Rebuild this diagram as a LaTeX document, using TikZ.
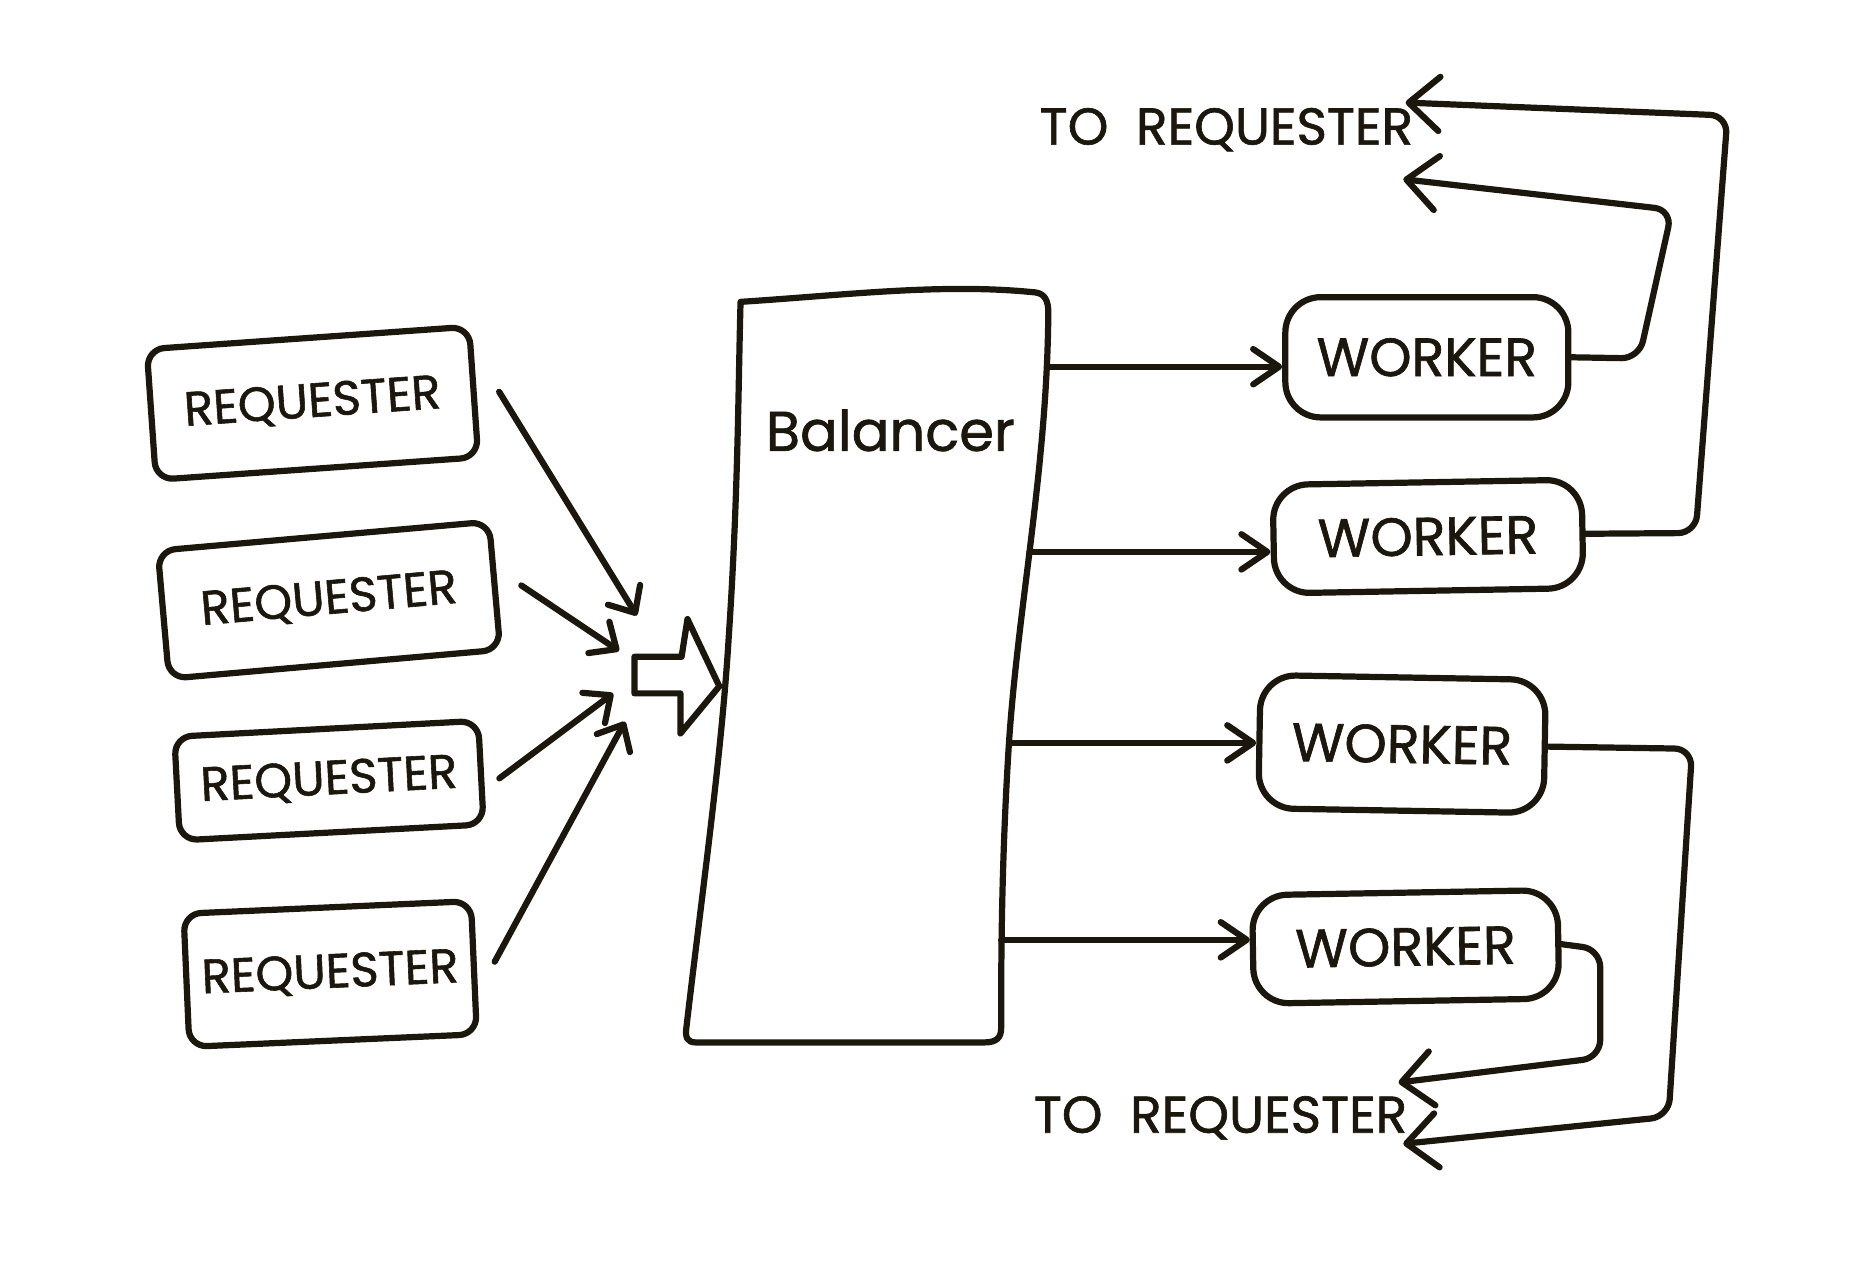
\documentclass[tikz,border=0pt]{standalone}
\usepackage{xcolor}
\definecolor{ink}{HTML}{1C170D}
\usepackage{fontspec}
\setmainfont{Poppins}[FakeBold=1.2]
\usepackage{tikz}
\usetikzlibrary{arrows.meta}

\begin{document}
\begin{tikzpicture}[x=0.1mm, y=-0.1mm,
    every node/.style={font=\fontsize{12.5}{15}\selectfont, text=ink},
    box/.style={draw=ink, line width=1.5pt, align=center, inner sep=0pt},
    req/.style={box, rounded corners=1.5mm, font=\fontsize{11.6}{14}\selectfont},
    wrk/.style={box, rounded corners=3mm, font=\fontsize{13}{15}\selectfont},
    sketch/.style={draw=ink, line width=1.5pt, line join=round, line cap=round},
    arr/.style={sketch, -{Straight Barb[length=1.8mm, width=3.2mm, round]}},
    arrw/.style={sketch, -{Straight Barb[length=2.2mm, width=3mm, round]}},
    ret/.style={sketch, rounded corners=1.5mm,
                -{Straight Barb[length=2.6mm, width=4.6mm, round]}}]
  \useasboundingbox (0,0) rectangle (1568,1071);

  % requesters
  \node[req, minimum width=27.4mm, minimum height=11.1mm, rotate=4]   (r1) at (265,342) {REQUESTER};
  \node[req, minimum width=28.2mm, minimum height=10.9mm, rotate=5]   (r2) at (279,509) {REQUESTER};
  \node[req, minimum width=25.8mm, minimum height=8.8mm,  rotate=3]   (r3) at (279,662) {REQUESTER};
  \node[req, minimum width=24.4mm, minimum height=11.3mm, rotate=2.5] (r4) at (280,826) {REQUESTER};

  \coordinate (m1) at (540,522);
  \coordinate (m2) at (525,552);
  \coordinate (m3) at (520,588);
  \coordinate (m4) at (530,612);
  \draw[arr] ([xshift=1.9mm]r1.east) -- (m1);
  \draw[arr] ([xshift=2mm]r2.east) -- (m2);
  \draw[arr] ([xshift=1.3mm,yshift=-0.5mm]r3.east) -- (m3);
  \draw[arr] ([xshift=1.5mm,yshift=0.5mm]r4.east) -- (m4);

  % merge arrow
  \draw[sketch] (538,557) -- (578,557) -- (583,525) -- (610,582) -- (577,622)
    -- (577,588) -- (538,588) -- cycle;

  % balancer
  \draw[sketch] (628,256) .. controls (720,250) and (800,240) .. (878,248)
    .. controls (886,249) and (889,255) .. (889,265)
    .. controls (888,400) and (862,520) .. (855,640)
    .. controls (849,740) and (849,820) .. (849,872)
    .. controls (849,880) and (845,884) .. (835,884)
    -- (590,884)
    .. controls (583,884) and (581,880) .. (582,872)
    .. controls (595,760) and (612,640) .. (618,540)
    .. controls (626,420) and (626,330) .. (628,256) -- cycle;
  \node[font=\fontsize{13.5}{16}\selectfont] (bal) at (755,365) {Balancer};
  \coordinate (b1) at (889,311);
  \coordinate (b2) at (873,468);
  \coordinate (b3) at (856,630);
  \coordinate (b4) at (849,797);

  % workers
  \node[wrk, minimum width=24mm,   minimum height=10.2mm]            (w1) at (1210,303) {WORKER};
  \node[wrk, minimum width=26.2mm, minimum height=9.2mm,  rotate=1]  (w2) at (1211,455) {WORKER};
  \node[wrk, minimum width=24.2mm, minimum height=11.3mm, rotate=-1] (w3) at (1189,631) {WORKER};
  \node[wrk, minimum width=25.9mm, minimum height=9.2mm,  rotate=1]  (w4) at (1192,803) {WORKER};

  \draw[arrw] (b1) -- (b1 -| w1.west);
  \draw[arrw] (b2) -- (b2 -| w2.west);
  \draw[arrw] (b3) -- (b3 -| w3.west);
  \draw[arrw] (b4) -- (b4 -| w4.west);

  % replies
  \node (totop) at (1040,110) {TO\ \ REQUESTER};
  \node (tobot) at (1035,948) {TO\ \ REQUESTER};
  \coordinate (t1) at (1190,152);
  \coordinate (t2) at (1192,87);
  \coordinate (t3) at (1190,970);
  \coordinate (t4) at (1186,918);
  \draw[ret] (w1.east) -- (1390,304) -- (1418,178) -- (t1);
  \draw[ret] (w2.east) -- (1438,452) -- (1465,98) -- (t2);
  \draw[ret] (w3.east) -- (1435,635) -- (1415,947) -- (t3);
  \draw[ret] (w4.east) -- (1357,805) -- (1357,897) -- (t4);
\end{tikzpicture}
\end{document}
